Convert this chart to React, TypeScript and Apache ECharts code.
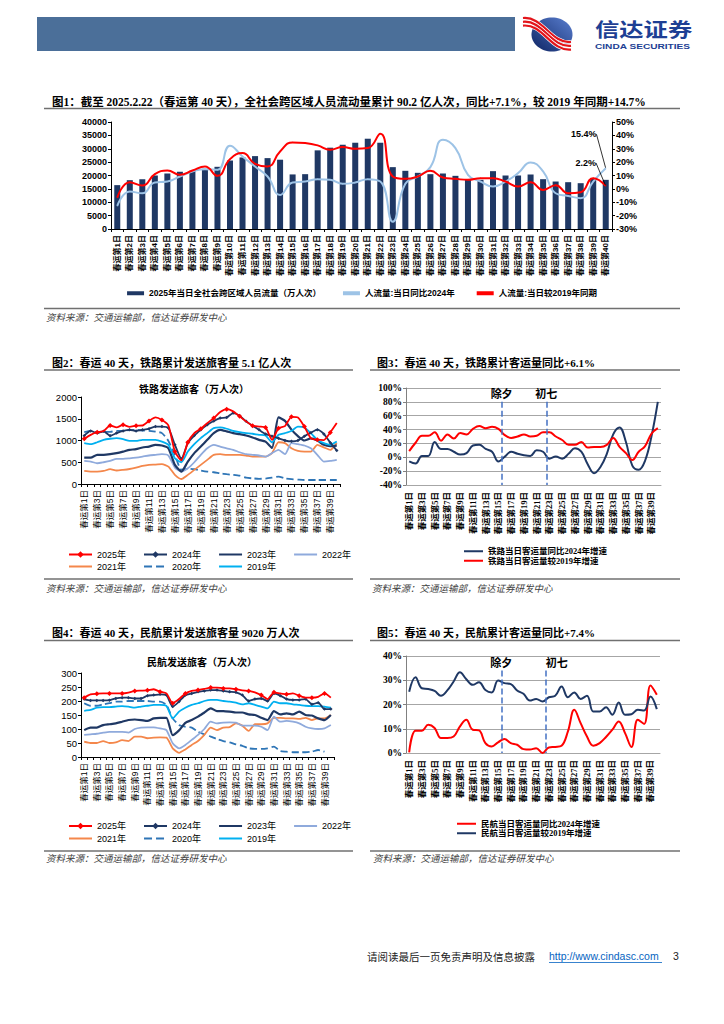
import React, { useEffect, useRef } from "react";
import * as echarts from "echarts";

const SANS = "'Liberation Sans', Arial, 'Noto Sans CJK SC', sans-serif";
const SERIF = "'Liberation Serif', 'Times New Roman', 'Noto Sans CJK SC', serif";
const CJK = "'Noto Sans CJK SC', sans-serif";

// ---------- categories ----------
const dayLabels = Array.from({ length: 40 }, (_, i) => `春运第${i + 1}日`);

// ---------- Fig 1 ----------
const flow2025 = [16400, 18250, 18600, 20000, 20750, 21400, 21750, 22500, 23250, 25600, 26750, 27250, 26500, 25900, 20400, 20500, 29400, 30400, 31500, 32250, 33750, 32250, 23125, 21750, 21000, 20500, 20750, 19875, 18625, 18375, 21625, 20000, 20000, 20375, 18625, 17750, 17500, 17125, 19000, 18375];
const flowYoY2024 = [-12.75, -2, -3.25, 4.75, 5.5, 9.25, 13, 14.75, 14.25, 32.25, 24.25, 16.75, 9.25, -4.5, 4.75, 5.5, 7.25, 6.75, 3.75, 4.75, 7.25, 5.5, -24.5, 3.75, 9.25, 16.25, 36.75, 30.5, 10.5, 5.5, 1.75, 5.5, 11.75, 19.75, 13, -3.25, -5.25, -7, 5.5, 15.4];
const flowVs2019 = [-6.5, 5, 2.5, 11, 13.75, 10.5, 13.75, 16.75, 9.75, 22.25, 26.75, 18.75, 16.75, 28, 34.75, 34.25, 32.5, 29.25, 31.25, 30, 30.5, 41.25, 9.25, 7.5, 9.25, 13.5, 8.5, 7.5, 6.75, 8, 8, 5.5, 1.75, 5, -0.75, 2.75, -3.25, -2.5, 8, 2.2];

// ---------- Fig 2 (rail, 万人次) ----------
const rail2025 = [1040, 1130, 1190, 1220, 1345, 1300, 1360, 1315, 1340, 1345, 1450, 1530, 1470, 1345, 745, 545, 960, 1170, 1270, 1400, 1515, 1655, 1720, 1670, 1555, 1440, 1340, 1320, 1300, 1015, 1280, 1330, 1545, 1530, 1320, 1050, 1020, 1010, 1185, 1400];
const rail2024 = [1110, 1220, 1170, 1210, 1110, 1170, 1220, 1245, 1220, 1245, 1270, 1320, 1320, 1285, 900, 580, 940, 1115, 1245, 1360, 1450, 1515, 1530, 1630, 1570, 1440, 1340, 1245, 1150, 1100, 1050, 1000, 980, 1000, 1100, 1180, 1250, 1150, 950, 770];
const rail2023 = [607, 607, 670, 670, 685, 710, 745, 785, 800, 840, 860, 900, 885, 820, 440, 285, 515, 710, 860, 1015, 1170, 1245, 1210, 1170, 1145, 1115, 1070, 1015, 975, 830, 1530, 1450, 1250, 1100, 1000, 1050, 1000, 900, 870, 880];
const rail2022 = [530, 515, 477, 500, 530, 577, 577, 590, 607, 630, 655, 670, 685, 655, 377, 285, 360, 500, 670, 820, 900, 860, 820, 785, 730, 685, 670, 655, 630, 710, 785, 685, 940, 915, 885, 820, 670, 515, 530, 555];
const rail2021 = [300, 285, 285, 300, 340, 310, 325, 345, 375, 415, 440, 445, 455, 400, 210, 115, 210, 325, 440, 555, 670, 685, 670, 670, 670, 655, 630, 630, 630, 710, 960, 940, 820, 760, 745, 745, 900, 840, 785, 940];
const rail2020 = [1190, 1220, 1190, 1200, 1200, 1220, 1220, 1240, 1245, 1230, 1220, 1205, 1170, 990, 670, 330, 350, 340, 310, 285, 270, 245, 225, 210, 190, 145, 130, 120, 125, 145, 170, 130, 110, 100, 92, 92, 92, 92, 92, 92];
const rail2019 = [940, 915, 960, 1015, 1040, 1055, 1030, 990, 990, 1015, 1015, 1015, 975, 900, 590, 500, 745, 915, 1055, 1170, 1285, 1300, 1270, 1220, 1190, 1170, 1155, 1130, 1115, 960, 1130, 1170, 1220, 1320, 1300, 1170, 1015, 940, 900, 975];

// ---------- Fig 3 (rail growth, %) ----------
const railYoY2024 = [-6, -9, 2, 2, 22, 12, 12, 8, 4, 6, 17, 18, 12, 8, -6, 1, 8, 5, 3, 2, 10, 8, -2, 1, -2, 5, 13, 8, -10, -23, -14, 5, 33, 43, 22, -12, -18, -5, 30, 80];
const railVs2019 = [9, 21, 31, 31, 36, 24, 33, 27, 35, 33, 41, 45, 42, 44, 41, 32, 28, 30, 33, 30, 31, 36, 36, 30, 25, 18, 18, 22, 14, 15, 15, 18, 28, 15, 6, -4, 8, 16, 34, 42];

// ---------- Fig 4 (air, 万人次) ----------
const air2025 = [212, 224, 226, 227, 227, 227, 227, 230, 236, 237, 238, 242, 233, 227, 192, 207, 227, 236, 239, 243, 248, 248, 245, 245, 242, 238, 236, 231, 221, 207, 231, 227, 224, 227, 219, 212, 212, 215, 227, 212];
const air2024 = [207, 202, 202, 202, 203, 209, 212, 212, 209, 209, 219, 221, 224, 221, 180, 198, 221, 227, 233, 236, 239, 239, 236, 233, 231, 221, 200, 207, 209, 200, 227, 219, 207, 204, 204, 207, 188, 194, 171, 171];
const air2023 = [96, 105, 105, 114, 117, 120, 126, 132, 134, 132, 129, 138, 140, 140, 78, 95, 122, 132, 144, 159, 174, 164, 164, 162, 159, 159, 152, 150, 140, 132, 164, 152, 156, 152, 162, 150, 148, 138, 132, 150];
const air2022 = [79, 81, 83, 87, 90, 90, 90, 87, 100, 105, 106, 106, 102, 96, 49, 31, 43, 61, 79, 100, 126, 120, 123, 124, 123, 112, 112, 112, 108, 96, 144, 126, 129, 126, 120, 108, 102, 100, 102, 114];
const air2021 = [55, 50, 50, 57, 50, 52, 60, 57, 73, 73, 67, 69, 70, 69, 31, 15, 27, 43, 57, 79, 105, 96, 105, 107, 120, 112, 93, 117, 117, 120, 140, 140, 138, 138, 136, 140, 132, 138, 138, 150];
const air2020 = [192, 183, 183, 188, 192, 198, 198, 200, 200, 200, 200, 198, 198, 186, 138, 114, 108, 105, 90, 81, 73, 64, 57, 52, 45, 40, 31, 29, 29, 31, 37, 21, 19, 17, 17, 17, 19, 25, 19, null];
const air2019 = [165, 168, 176, 178, 178, 180, 182, 180, 176, 180, 183, 186, 186, 183, 138, 162, 176, 186, 192, 200, 204, 204, 200, 198, 194, 188, 192, 186, 180, 174, 198, 192, 192, 188, 186, 183, 182, 182, 180, 176];

// ---------- Fig 5 (air growth, %) ----------
const airYoY2024 = [0.3, 9.2, 9.2, 11.6, 10.3, 6.2, 6.2, 6.8, 11, 13.7, 9.6, 9.3, 4.1, 2.7, 4.4, 5.8, 4.1, 3.4, 1.6, 1.4, 2, 0, 2.3, 2.5, 3, 8.9, 17.8, 12.3, 6.8, 3, 4.1, 6.6, 9.6, 13, 8.2, 2.5, 13.7, 12, 27.8, 24];
const airVs2019 = [25.3, 31.2, 26.7, 26.4, 25.6, 23.6, 25.8, 29.5, 33.3, 30.4, 28.1, 29.2, 26, 25, 29.9, 28.8, 28.4, 25.8, 24.4, 21.6, 22.3, 21.2, 23, 23.6, 27.4, 23, 25, 22.3, 23.6, 17.1, 17.1, 18.9, 15.8, 20.8, 15.8, 16, 17.8, 17.5, 23.3, 18.1];

// festival markers (boundary after day N)
const festivalMarks = [
  { name: "除夕", after: 15 },
  { name: "初七", after: 22 },
];

const yearNames = ["2025年", "2024年", "2023年", "2022年", "2021年", "2020年", "2019年"];
const markedYears = ["2025年", "2024年"];

const COLORS = {
  navy: "#1f3864",
  lightBlue: "#9dc3e6",
  red: "#ff0000",
  y2022: "#8faadc",
  y2021: "#f4874b",
  y2020: "#2e75b6",
  y2019: "#00b0f0",
};

const plainFmt = (v: number) => `${v}`;
const pctFmt = (v: number) => `${v}%`;

function catAxis(gridIndex: number, o: any) {
  return {
    type: "category",
    gridIndex,
    data: dayLabels,
    boundaryGap: true,
    axisLine: { onZero: false, lineStyle: { color: o.lineColor || "#000", width: 1 } },
    axisTick: { show: o.tick !== false, interval: 0, length: 3, lineStyle: { color: o.lineColor || "#000" } },
    axisLabel: {
      rotate: 90,
      interval: o.interval,
      fontSize: o.fontSize,
      fontFamily: o.fontFamily,
      fontWeight: o.fontWeight || "normal",
      color: "#000",
      margin: o.margin || 5,
    },
    splitLine: { show: false },
  };
}

function valAxis(gridIndex: number, o: any) {
  return {
    type: "value",
    gridIndex,
    min: o.min,
    max: o.max,
    interval: o.interval,
    position: o.position || "left",
    axisLine: { show: true, lineStyle: { color: o.lineColor || "#000", width: 1 } },
    axisTick: { show: true, length: 3, lineStyle: { color: o.lineColor || "#000" } },
    axisLabel: {
      formatter: o.formatter || plainFmt,
      fontSize: o.fontSize || 9,
      fontFamily: o.fontFamily || SANS,
      fontWeight: o.fontWeight || "normal",
      color: "#000",
      margin: 4,
    },
    splitLine: o.split ? { show: true, lineStyle: { color: "#a6a6a6", width: 1.2 } } : { show: false },
  };
}

function yearLine(name: string, data: any[], xi: number, yi: number, color: string, extra: any = {}) {
  return {
    type: "line",
    name,
    xAxisIndex: xi,
    yAxisIndex: yi,
    data,
    smooth: 0.2,
    symbol: extra.symbol || "none",
    symbolSize: extra.symbolSize || 4,
    showSymbol: !!extra.symbol,
    connectNulls: false,
    z: extra.z || 2,
    lineStyle: { color, width: extra.width || 1.8, type: extra.dashed ? "dashed" : "solid" },
    itemStyle: { color },
  };
}

function festivalSeries(xi: number, yi: number, top: number, bottom: number, shiftSecond: boolean) {
  return {
    type: "line",
    xAxisIndex: xi,
    yAxisIndex: yi,
    data: [],
    silent: true,
    markLine: {
      silent: true,
      symbol: ["none", "none"],
      animation: false,
      lineStyle: { type: "dashed", color: "#4472c4", width: 1.5 },
      label: {
        show: true,
        position: "start",
        formatter: "{b}",
        fontSize: 11,
        fontWeight: "bold",
        fontFamily: CJK,
        color: "#000",
        distance: 3,
      },
      data: festivalMarks.map((f, i) => [
        {
          name: f.name,
          coord: [f.after, top],
          label: shiftSecond && i === 1 ? { align: "left" } : {},
        },
        { coord: [f.after, bottom] },
      ]),
    },
  };
}

function txt(x: number, y: number, text: string, o: any = {}) {
  return {
    type: "text",
    x,
    y,
    scaleX: o.scaleX || 1,
    silent: true,
    style: {
      text,
      fontSize: o.size || 11,
      fontWeight: o.weight || "normal",
      fontStyle: o.style || "normal",
      fontFamily: o.family || SERIF,
      fill: o.color || "#000",
      textAlign: o.align || "left",
      textVerticalAlign: "middle",
      align: o.align || "left",
      verticalAlign: "middle",
    },
  };
}

function rule(x1: number, x2: number, y: number) {
  return {
    type: "line",
    silent: true,
    shape: { x1, y1: y, x2, y2: y },
    style: { stroke: "#707070", lineWidth: 1.5 },
  };
}

const SOURCE = "资料来源：交通运输部，信达证券研发中心";

// legend entries: plain lines hide the legend marker
function legendItems(names: string[]) {
  return names.map((n) => (markedYears.includes(n) ? { name: n } : { name: n, itemStyle: { opacity: 0 } }));
}

function yearLegend(names: string[], top: number) {
  return {
    left: 63,
    top,
    itemGap: 17,
    itemWidth: 23,
    itemHeight: 8,
    selectedMode: false,
    textStyle: { fontSize: 9, fontFamily: SANS, color: "#000" },
    data: legendItems(names),
  };
}

function buildOption() {
  const lastLabel = (v: number, text: string) => ({
    value: v,
    label: { show: true, formatter: text },
  });
  const blueData = flowYoY2024.map((v, i) => (i === flowYoY2024.length - 1 ? lastLabel(v, "15.4%") : v));
  const redData = flowVs2019.map((v, i) => (i === flowVs2019.length - 1 ? lastLabel(v, "2.2%") : v));

  const annLabel = { show: false, fontSize: 9, fontWeight: "bold", fontFamily: SANS, color: "#000" };

  const ribbons: any[] = [];
  [0, 1, 2].forEach((k) => {
    const o = k * 3.8;
    const shape = { x1: 523, y1: 18 + o, cpx1: 543, cpy1: 16 + o, cpx2: 551, cpy2: 44 + o, x2: 571, y2: 42 + o };
    ribbons.push({ type: "bezierCurve", silent: true, shape, style: { stroke: "#ffffff", lineWidth: 3.6, fill: "none" } });
    ribbons.push({ type: "bezierCurve", silent: true, shape, style: { stroke: "#e3151b", lineWidth: 2.2, fill: "none" } });
  });

  const growthLegend = (left: number, top: number, names: string[]) => ({
    left,
    top,
    orient: "vertical",
    itemGap: 1,
    itemWidth: 19,
    itemHeight: 6,
    selectedMode: false,
    textStyle: { fontSize: 8.5, fontWeight: "bold", fontFamily: SERIF, color: "#000" },
    data: names.map((n) => ({ name: n, itemStyle: { opacity: 0 } })),
  });

  return {
    animation: false,
    backgroundColor: "#ffffff",
    grid: [
      { left: 111, top: 122, width: 501, height: 107 },
      { left: 81, top: 397, width: 259, height: 87 },
      { left: 406, top: 388, width: 255, height: 97 },
      { left: 81, top: 673, width: 253, height: 84 },
      { left: 406, top: 656, width: 254, height: 97 },
    ],
    xAxis: [
      catAxis(0, { interval: 0, fontSize: 8, fontFamily: SANS, fontWeight: "bold", margin: 6 }),
      catAxis(1, { interval: 1, fontSize: 8.5, fontFamily: SANS, margin: 6 }),
      catAxis(2, { interval: 1, fontSize: 8.5, fontFamily: SERIF, fontWeight: "bold", lineColor: "#a6a6a6", tick: false, margin: 7 }),
      catAxis(3, { interval: 1, fontSize: 8.5, fontFamily: SANS, margin: 6 }),
      catAxis(4, { interval: 1, fontSize: 8.5, fontFamily: SERIF, fontWeight: "bold", lineColor: "#a6a6a6", tick: false, margin: 7 }),
      { type: "value", gridIndex: 2, min: 0, max: 40, show: false },
      { type: "value", gridIndex: 4, min: 0, max: 40, show: false },
    ],
    yAxis: [
      valAxis(0, { min: 0, max: 40000, interval: 5000, fontWeight: "bold", fontSize: 9 }),
      valAxis(0, { min: -30, max: 50, interval: 10, position: "right", formatter: pctFmt, fontWeight: "bold", fontSize: 9 }),
      valAxis(1, { min: 0, max: 2000, interval: 500, fontSize: 9.5 }),
      valAxis(2, { min: -40, max: 100, interval: 20, formatter: pctFmt, fontFamily: SERIF, fontWeight: "bold", fontSize: 9.5, split: true, lineColor: "#808080" }),
      valAxis(3, { min: 0, max: 300, interval: 50, fontSize: 9.5 }),
      valAxis(4, { min: 0, max: 40, interval: 10, formatter: pctFmt, fontFamily: SERIF, fontWeight: "bold", fontSize: 9.5, split: true, lineColor: "#808080" }),
    ],
    legend: [
      {
        left: "center",
        top: 284,
        itemGap: 22,
        itemWidth: 17,
        itemHeight: 4,
        selectedMode: false,
        textStyle: { fontSize: 8.5, fontWeight: "bold", fontFamily: SANS, color: "#000" },
        data: [
          { name: "2025年当日全社会跨区域人员流量（万人次）", icon: "rect" },
          { name: "人流量:当日同比2024年", icon: "rect" },
          { name: "人流量:当日较2019年同期", icon: "rect" },
        ],
      },
      yearLegend(yearNames.slice(0, 4), 545),
      yearLegend(yearNames.slice(4), 557),
      yearLegend(yearNames.slice(0, 4), 816.5),
      yearLegend(yearNames.slice(4), 829),
      growthLegend(458, 542, ["铁路当日客运量同比2024年增速", "铁路当日客运量较2019年增速"]),
      growthLegend(451, 814.5, ["民航当日客运量同比2024年增速", "民航当日客运量较2019年增速"]),
    ],
    series: [
      // Fig 1
      {
        type: "bar",
        name: "2025年当日全社会跨区域人员流量（万人次）",
        xAxisIndex: 0,
        yAxisIndex: 0,
        data: flow2025,
        barWidth: "48%",
        itemStyle: { color: COLORS.navy },
      },
      {
        type: "line",
        name: "人流量:当日同比2024年",
        xAxisIndex: 0,
        yAxisIndex: 1,
        data: blueData,
        smooth: 0.5,
        symbol: "circle",
        symbolSize: 1,
        showSymbol: true,
        lineStyle: { color: COLORS.lightBlue, width: 2 },
        itemStyle: { color: COLORS.lightBlue },
        label: annLabel,
        labelLine: { show: true, lineStyle: { color: "#000", width: 0.8 } },
        labelLayout: { dx: -22, dy: -24 },
        z: 3,
      },
      {
        type: "line",
        name: "人流量:当日较2019年同期",
        xAxisIndex: 0,
        yAxisIndex: 1,
        data: redData,
        smooth: 0.5,
        symbol: "circle",
        symbolSize: 1,
        showSymbol: true,
        lineStyle: { color: COLORS.red, width: 2 },
        itemStyle: { color: COLORS.red },
        label: annLabel,
        labelLine: { show: true, lineStyle: { color: "#000", width: 0.8 } },
        labelLayout: { dx: -20, dy: -13 },
        z: 4,
      },
      // Fig 2
      yearLine("2020年", rail2020, 1, 2, COLORS.y2020, { dashed: true }),
      yearLine("2021年", rail2021, 1, 2, COLORS.y2021),
      yearLine("2022年", rail2022, 1, 2, COLORS.y2022),
      yearLine("2023年", rail2023, 1, 2, COLORS.navy, { width: 2.2 }),
      yearLine("2019年", rail2019, 1, 2, COLORS.y2019),
      yearLine("2024年", rail2024, 1, 2, COLORS.navy, { symbol: "diamond", symbolSize: 3.5, z: 3 }),
      yearLine("2025年", rail2025, 1, 2, COLORS.red, { symbol: "diamond", symbolSize: 5, z: 4 }),
      // Fig 3
      {
        type: "line",
        name: "铁路当日客运量同比2024年增速",
        xAxisIndex: 2,
        yAxisIndex: 3,
        data: railYoY2024,
        smooth: 0.4,
        symbol: "none",
        lineStyle: { color: COLORS.navy, width: 2 },
        itemStyle: { color: COLORS.navy },
      },
      {
        type: "line",
        name: "铁路当日客运量较2019年增速",
        xAxisIndex: 2,
        yAxisIndex: 3,
        data: railVs2019,
        smooth: 0.4,
        symbol: "none",
        lineStyle: { color: COLORS.red, width: 2 },
        itemStyle: { color: COLORS.red },
      },
      festivalSeries(5, 3, 80, -40, false),
      // Fig 4
      yearLine("2020年", air2020, 3, 4, COLORS.y2020, { dashed: true }),
      yearLine("2021年", air2021, 3, 4, COLORS.y2021),
      yearLine("2022年", air2022, 3, 4, COLORS.y2022),
      yearLine("2023年", air2023, 3, 4, COLORS.navy, { width: 2.2 }),
      yearLine("2019年", air2019, 3, 4, COLORS.y2019),
      yearLine("2024年", air2024, 3, 4, COLORS.navy, { symbol: "diamond", symbolSize: 3.5, z: 3 }),
      yearLine("2025年", air2025, 3, 4, COLORS.red, { symbol: "diamond", symbolSize: 5, z: 4 }),
      // Fig 5
      {
        type: "line",
        name: "民航当日客运量同比2024年增速",
        xAxisIndex: 4,
        yAxisIndex: 5,
        data: airYoY2024,
        smooth: 0.4,
        symbol: "none",
        lineStyle: { color: COLORS.red, width: 2 },
        itemStyle: { color: COLORS.red },
      },
      {
        type: "line",
        name: "民航当日客运量较2019年增速",
        xAxisIndex: 4,
        yAxisIndex: 5,
        data: airVs2019,
        smooth: 0.4,
        symbol: "none",
        lineStyle: { color: COLORS.navy, width: 2 },
        itemStyle: { color: COLORS.navy },
      },
      festivalSeries(6, 5, 34, 0, true),
    ],
    graphic: [
      // header
      { type: "rect", silent: true, shape: { x: 37, y: 17, width: 478, height: 34 }, style: { fill: "#4b6f99" } },
      {
        type: "ellipse",
        silent: true,
        shape: { cx: 552, cy: 34.5, rx: 20.5, ry: 17 },
        style: {
          fill: {
            type: "linear", x: 1, y: 0, x2: 0, y2: 1,
            colorStops: [
              { offset: 0, color: "#5a7fd0" },
              { offset: 1, color: "#0d2463" },
            ],
          },
        },
      },
      ...ribbons,
      txt(595, 28.5, "信达证券", { size: 19, weight: "bold", family: CJK, color: "#1d3f94", scaleX: 1.28 }),
      txt(595, 46.5, "CINDA SECURITIES", { size: 7.5, weight: "bold", family: SANS, color: "#1d3f94", scaleX: 1.35 }),

      // Fig 1 frame
      txt(52, 101.5, "图1：截至 2025.2.22（春运第 40 天），全社会跨区域人员流动量累计 90.2 亿人次，同比+7.1%，较 2019 年同期+14.7%", { size: 11.5, weight: "bold" }),
      rule(44, 680, 108.5),
      rule(44, 680, 308.5),
      txt(46, 317, SOURCE, { size: 9.5, style: "italic", family: CJK, color: "#404040" }),

      // Fig 2 / 3 frame
      txt(52, 362.5, "图2：春运 40 天，铁路累计发送旅客量 5.1 亿人次", { size: 11, weight: "bold" }),
      txt(377, 362.5, "图3：春运 40 天，铁路累计客运量同比+6.1%", { size: 11, weight: "bold" }),
      rule(44, 353, 370),
      rule(370, 680, 370),
      txt(194, 388.5, "铁路发送旅客（万人次）", { size: 10, weight: "bold", family: CJK, align: "center" }),
      rule(44, 353, 579),
      rule(370, 680, 579),
      txt(46, 588, SOURCE, { size: 9.5, style: "italic", family: CJK, color: "#404040" }),
      txt(372, 588, SOURCE, { size: 9.5, style: "italic", family: CJK, color: "#404040" }),

      // Fig 4 / 5 frame
      txt(52, 632.5, "图4：春运 40 天，民航累计发送旅客量 9020 万人次", { size: 11, weight: "bold" }),
      txt(377, 632.5, "图5：春运 40 天，民航累计客运量同比+7.4%", { size: 11, weight: "bold" }),
      rule(44, 353, 640.5),
      rule(370, 680, 640.5),
      txt(202, 661.5, "民航发送旅客（万人次）", { size: 10, weight: "bold", family: CJK, align: "center" }),
      rule(44, 353, 851),
      rule(370, 680, 851),
      txt(46, 858, SOURCE, { size: 9.5, style: "italic", family: CJK, color: "#404040" }),
      txt(373, 858, SOURCE, { size: 9.5, style: "italic", family: CJK, color: "#404040" }),

      // footer
      txt(367, 956, "请阅读最后一页免责声明及信息披露", { size: 10.5, family: CJK, color: "#222" }),
      txt(549, 956, "http://www.cindasc.com", { size: 10.5, family: SANS, color: "#0563c1" }),
      { type: "line", silent: true, shape: { x1: 549, y1: 962.5, x2: 662, y2: 962.5 }, style: { stroke: "#0563c1", lineWidth: 0.8 } },
      txt(673, 956, "3", { size: 10.5, family: SANS, color: "#222" }),
    ],
  };
}

export default function App() {
  const ref = useRef<HTMLDivElement>(null);
  useEffect(() => {
    if (!ref.current) return;
    const chart = echarts.init(ref.current, null, { renderer: "svg" });
    chart.setOption(buildOption() as any);
    return () => chart.dispose();
  }, []);
  return (
    <div
      ref={ref}
      style={{ position: "absolute", left: 0, top: 0, width: 724, height: 1024, background: "#fff" }}
    />
  );
}
